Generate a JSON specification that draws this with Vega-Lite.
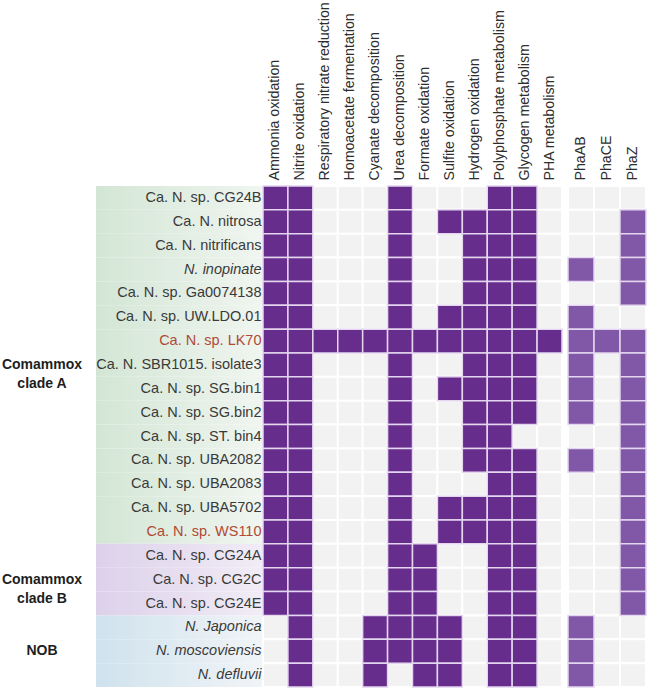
{
 "$schema": "https://vega.github.io/schema/vega-lite/v6.json",
 "background": "white",
 "padding": {"left": 0, "top": 1, "right": 2, "bottom": 2},
 "config": {"view": {"stroke": null}, "font": "Liberation Sans"},
 "datasets": {
  "groups": [
   {"mid": "Ca. N. SBR1015. isolate3", "label": "Comammox\nclade A"},
   {"mid": "Ca. N. sp. CG2C", "label": "Comammox\nclade B"},
   {"mid": "N. moscoviensis", "label": "NOB"}
  ],
  "genomes": [
   {"g": "Ca. N. sp. CG24B", "group": "A"},
   {"g": "Ca. N. nitrosa", "group": "A"},
   {"g": "Ca. N. nitrificans", "group": "A"},
   {"g": "N. inopinate", "group": "A"},
   {"g": "Ca. N. sp. Ga0074138", "group": "A"},
   {"g": "Ca. N. sp. UW.LDO.01", "group": "A"},
   {"g": "Ca. N. sp. LK70", "group": "A"},
   {"g": "Ca. N. SBR1015. isolate3", "group": "A"},
   {"g": "Ca. N. sp. SG.bin1", "group": "A"},
   {"g": "Ca. N. sp. SG.bin2", "group": "A"},
   {"g": "Ca. N. sp. ST. bin4", "group": "A"},
   {"g": "Ca. N. sp. UBA2082", "group": "A"},
   {"g": "Ca. N. sp. UBA2083", "group": "A"},
   {"g": "Ca. N. sp. UBA5702", "group": "A"},
   {"g": "Ca. N. sp. WS110", "group": "A"},
   {"g": "Ca. N. sp. CG24A", "group": "B"},
   {"g": "Ca. N. sp. CG2C", "group": "B"},
   {"g": "Ca. N. sp. CG24E", "group": "B"},
   {"g": "N. Japonica", "group": "NOB"},
   {"g": "N. moscoviensis", "group": "NOB"},
   {"g": "N. defluvii", "group": "NOB"}
  ],
  "cells": [
   {"g": "Ca. N. sp. CG24B", "f": "Ammonia oxidation", "v": 1},
   {"g": "Ca. N. sp. CG24B", "f": "Nitrite oxidation", "v": 1},
   {"g": "Ca. N. sp. CG24B", "f": "Respiratory nitrate reduction", "v": 0},
   {"g": "Ca. N. sp. CG24B", "f": "Homoacetate fermentation", "v": 0},
   {"g": "Ca. N. sp. CG24B", "f": "Cyanate decomposition", "v": 0},
   {"g": "Ca. N. sp. CG24B", "f": "Urea decomposition", "v": 1},
   {"g": "Ca. N. sp. CG24B", "f": "Formate oxidation", "v": 0},
   {"g": "Ca. N. sp. CG24B", "f": "Sulfite oxidation", "v": 0},
   {"g": "Ca. N. sp. CG24B", "f": "Hydrogen oxidation", "v": 0},
   {"g": "Ca. N. sp. CG24B", "f": "Polyphosphate metabolism", "v": 1},
   {"g": "Ca. N. sp. CG24B", "f": "Glycogen metabolism", "v": 1},
   {"g": "Ca. N. sp. CG24B", "f": "PHA metabolism", "v": 0},
   {"g": "Ca. N. nitrosa", "f": "Ammonia oxidation", "v": 1},
   {"g": "Ca. N. nitrosa", "f": "Nitrite oxidation", "v": 1},
   {"g": "Ca. N. nitrosa", "f": "Respiratory nitrate reduction", "v": 0},
   {"g": "Ca. N. nitrosa", "f": "Homoacetate fermentation", "v": 0},
   {"g": "Ca. N. nitrosa", "f": "Cyanate decomposition", "v": 0},
   {"g": "Ca. N. nitrosa", "f": "Urea decomposition", "v": 1},
   {"g": "Ca. N. nitrosa", "f": "Formate oxidation", "v": 0},
   {"g": "Ca. N. nitrosa", "f": "Sulfite oxidation", "v": 1},
   {"g": "Ca. N. nitrosa", "f": "Hydrogen oxidation", "v": 1},
   {"g": "Ca. N. nitrosa", "f": "Polyphosphate metabolism", "v": 1},
   {"g": "Ca. N. nitrosa", "f": "Glycogen metabolism", "v": 1},
   {"g": "Ca. N. nitrosa", "f": "PHA metabolism", "v": 0},
   {"g": "Ca. N. nitrificans", "f": "Ammonia oxidation", "v": 1},
   {"g": "Ca. N. nitrificans", "f": "Nitrite oxidation", "v": 1},
   {"g": "Ca. N. nitrificans", "f": "Respiratory nitrate reduction", "v": 0},
   {"g": "Ca. N. nitrificans", "f": "Homoacetate fermentation", "v": 0},
   {"g": "Ca. N. nitrificans", "f": "Cyanate decomposition", "v": 0},
   {"g": "Ca. N. nitrificans", "f": "Urea decomposition", "v": 1},
   {"g": "Ca. N. nitrificans", "f": "Formate oxidation", "v": 0},
   {"g": "Ca. N. nitrificans", "f": "Sulfite oxidation", "v": 0},
   {"g": "Ca. N. nitrificans", "f": "Hydrogen oxidation", "v": 1},
   {"g": "Ca. N. nitrificans", "f": "Polyphosphate metabolism", "v": 1},
   {"g": "Ca. N. nitrificans", "f": "Glycogen metabolism", "v": 1},
   {"g": "Ca. N. nitrificans", "f": "PHA metabolism", "v": 0},
   {"g": "N. inopinate", "f": "Ammonia oxidation", "v": 1},
   {"g": "N. inopinate", "f": "Nitrite oxidation", "v": 1},
   {"g": "N. inopinate", "f": "Respiratory nitrate reduction", "v": 0},
   {"g": "N. inopinate", "f": "Homoacetate fermentation", "v": 0},
   {"g": "N. inopinate", "f": "Cyanate decomposition", "v": 0},
   {"g": "N. inopinate", "f": "Urea decomposition", "v": 1},
   {"g": "N. inopinate", "f": "Formate oxidation", "v": 0},
   {"g": "N. inopinate", "f": "Sulfite oxidation", "v": 0},
   {"g": "N. inopinate", "f": "Hydrogen oxidation", "v": 1},
   {"g": "N. inopinate", "f": "Polyphosphate metabolism", "v": 1},
   {"g": "N. inopinate", "f": "Glycogen metabolism", "v": 1},
   {"g": "N. inopinate", "f": "PHA metabolism", "v": 0},
   {"g": "Ca. N. sp. Ga0074138", "f": "Ammonia oxidation", "v": 1},
   {"g": "Ca. N. sp. Ga0074138", "f": "Nitrite oxidation", "v": 1},
   {"g": "Ca. N. sp. Ga0074138", "f": "Respiratory nitrate reduction", "v": 0},
   {"g": "Ca. N. sp. Ga0074138", "f": "Homoacetate fermentation", "v": 0},
   {"g": "Ca. N. sp. Ga0074138", "f": "Cyanate decomposition", "v": 0},
   {"g": "Ca. N. sp. Ga0074138", "f": "Urea decomposition", "v": 1},
   {"g": "Ca. N. sp. Ga0074138", "f": "Formate oxidation", "v": 0},
   {"g": "Ca. N. sp. Ga0074138", "f": "Sulfite oxidation", "v": 0},
   {"g": "Ca. N. sp. Ga0074138", "f": "Hydrogen oxidation", "v": 1},
   {"g": "Ca. N. sp. Ga0074138", "f": "Polyphosphate metabolism", "v": 1},
   {"g": "Ca. N. sp. Ga0074138", "f": "Glycogen metabolism", "v": 1},
   {"g": "Ca. N. sp. Ga0074138", "f": "PHA metabolism", "v": 0},
   {"g": "Ca. N. sp. UW.LDO.01", "f": "Ammonia oxidation", "v": 1},
   {"g": "Ca. N. sp. UW.LDO.01", "f": "Nitrite oxidation", "v": 1},
   {"g": "Ca. N. sp. UW.LDO.01", "f": "Respiratory nitrate reduction", "v": 0},
   {"g": "Ca. N. sp. UW.LDO.01", "f": "Homoacetate fermentation", "v": 0},
   {"g": "Ca. N. sp. UW.LDO.01", "f": "Cyanate decomposition", "v": 0},
   {"g": "Ca. N. sp. UW.LDO.01", "f": "Urea decomposition", "v": 1},
   {"g": "Ca. N. sp. UW.LDO.01", "f": "Formate oxidation", "v": 0},
   {"g": "Ca. N. sp. UW.LDO.01", "f": "Sulfite oxidation", "v": 1},
   {"g": "Ca. N. sp. UW.LDO.01", "f": "Hydrogen oxidation", "v": 1},
   {"g": "Ca. N. sp. UW.LDO.01", "f": "Polyphosphate metabolism", "v": 1},
   {"g": "Ca. N. sp. UW.LDO.01", "f": "Glycogen metabolism", "v": 1},
   {"g": "Ca. N. sp. UW.LDO.01", "f": "PHA metabolism", "v": 0},
   {"g": "Ca. N. sp. LK70", "f": "Ammonia oxidation", "v": 1},
   {"g": "Ca. N. sp. LK70", "f": "Nitrite oxidation", "v": 1},
   {"g": "Ca. N. sp. LK70", "f": "Respiratory nitrate reduction", "v": 1},
   {"g": "Ca. N. sp. LK70", "f": "Homoacetate fermentation", "v": 1},
   {"g": "Ca. N. sp. LK70", "f": "Cyanate decomposition", "v": 1},
   {"g": "Ca. N. sp. LK70", "f": "Urea decomposition", "v": 1},
   {"g": "Ca. N. sp. LK70", "f": "Formate oxidation", "v": 1},
   {"g": "Ca. N. sp. LK70", "f": "Sulfite oxidation", "v": 1},
   {"g": "Ca. N. sp. LK70", "f": "Hydrogen oxidation", "v": 1},
   {"g": "Ca. N. sp. LK70", "f": "Polyphosphate metabolism", "v": 1},
   {"g": "Ca. N. sp. LK70", "f": "Glycogen metabolism", "v": 1},
   {"g": "Ca. N. sp. LK70", "f": "PHA metabolism", "v": 1},
   {"g": "Ca. N. SBR1015. isolate3", "f": "Ammonia oxidation", "v": 1},
   {"g": "Ca. N. SBR1015. isolate3", "f": "Nitrite oxidation", "v": 1},
   {"g": "Ca. N. SBR1015. isolate3", "f": "Respiratory nitrate reduction", "v": 0},
   {"g": "Ca. N. SBR1015. isolate3", "f": "Homoacetate fermentation", "v": 0},
   {"g": "Ca. N. SBR1015. isolate3", "f": "Cyanate decomposition", "v": 0},
   {"g": "Ca. N. SBR1015. isolate3", "f": "Urea decomposition", "v": 1},
   {"g": "Ca. N. SBR1015. isolate3", "f": "Formate oxidation", "v": 0},
   {"g": "Ca. N. SBR1015. isolate3", "f": "Sulfite oxidation", "v": 0},
   {"g": "Ca. N. SBR1015. isolate3", "f": "Hydrogen oxidation", "v": 1},
   {"g": "Ca. N. SBR1015. isolate3", "f": "Polyphosphate metabolism", "v": 1},
   {"g": "Ca. N. SBR1015. isolate3", "f": "Glycogen metabolism", "v": 1},
   {"g": "Ca. N. SBR1015. isolate3", "f": "PHA metabolism", "v": 0},
   {"g": "Ca. N. sp. SG.bin1", "f": "Ammonia oxidation", "v": 1},
   {"g": "Ca. N. sp. SG.bin1", "f": "Nitrite oxidation", "v": 1},
   {"g": "Ca. N. sp. SG.bin1", "f": "Respiratory nitrate reduction", "v": 0},
   {"g": "Ca. N. sp. SG.bin1", "f": "Homoacetate fermentation", "v": 0},
   {"g": "Ca. N. sp. SG.bin1", "f": "Cyanate decomposition", "v": 0},
   {"g": "Ca. N. sp. SG.bin1", "f": "Urea decomposition", "v": 1},
   {"g": "Ca. N. sp. SG.bin1", "f": "Formate oxidation", "v": 0},
   {"g": "Ca. N. sp. SG.bin1", "f": "Sulfite oxidation", "v": 1},
   {"g": "Ca. N. sp. SG.bin1", "f": "Hydrogen oxidation", "v": 1},
   {"g": "Ca. N. sp. SG.bin1", "f": "Polyphosphate metabolism", "v": 1},
   {"g": "Ca. N. sp. SG.bin1", "f": "Glycogen metabolism", "v": 1},
   {"g": "Ca. N. sp. SG.bin1", "f": "PHA metabolism", "v": 0},
   {"g": "Ca. N. sp. SG.bin2", "f": "Ammonia oxidation", "v": 1},
   {"g": "Ca. N. sp. SG.bin2", "f": "Nitrite oxidation", "v": 1},
   {"g": "Ca. N. sp. SG.bin2", "f": "Respiratory nitrate reduction", "v": 0},
   {"g": "Ca. N. sp. SG.bin2", "f": "Homoacetate fermentation", "v": 0},
   {"g": "Ca. N. sp. SG.bin2", "f": "Cyanate decomposition", "v": 0},
   {"g": "Ca. N. sp. SG.bin2", "f": "Urea decomposition", "v": 1},
   {"g": "Ca. N. sp. SG.bin2", "f": "Formate oxidation", "v": 0},
   {"g": "Ca. N. sp. SG.bin2", "f": "Sulfite oxidation", "v": 0},
   {"g": "Ca. N. sp. SG.bin2", "f": "Hydrogen oxidation", "v": 1},
   {"g": "Ca. N. sp. SG.bin2", "f": "Polyphosphate metabolism", "v": 1},
   {"g": "Ca. N. sp. SG.bin2", "f": "Glycogen metabolism", "v": 1},
   {"g": "Ca. N. sp. SG.bin2", "f": "PHA metabolism", "v": 0},
   {"g": "Ca. N. sp. ST. bin4", "f": "Ammonia oxidation", "v": 1},
   {"g": "Ca. N. sp. ST. bin4", "f": "Nitrite oxidation", "v": 1},
   {"g": "Ca. N. sp. ST. bin4", "f": "Respiratory nitrate reduction", "v": 0},
   {"g": "Ca. N. sp. ST. bin4", "f": "Homoacetate fermentation", "v": 0},
   {"g": "Ca. N. sp. ST. bin4", "f": "Cyanate decomposition", "v": 0},
   {"g": "Ca. N. sp. ST. bin4", "f": "Urea decomposition", "v": 1},
   {"g": "Ca. N. sp. ST. bin4", "f": "Formate oxidation", "v": 0},
   {"g": "Ca. N. sp. ST. bin4", "f": "Sulfite oxidation", "v": 0},
   {"g": "Ca. N. sp. ST. bin4", "f": "Hydrogen oxidation", "v": 1},
   {"g": "Ca. N. sp. ST. bin4", "f": "Polyphosphate metabolism", "v": 1},
   {"g": "Ca. N. sp. ST. bin4", "f": "Glycogen metabolism", "v": 0},
   {"g": "Ca. N. sp. ST. bin4", "f": "PHA metabolism", "v": 0},
   {"g": "Ca. N. sp. UBA2082", "f": "Ammonia oxidation", "v": 1},
   {"g": "Ca. N. sp. UBA2082", "f": "Nitrite oxidation", "v": 1},
   {"g": "Ca. N. sp. UBA2082", "f": "Respiratory nitrate reduction", "v": 0},
   {"g": "Ca. N. sp. UBA2082", "f": "Homoacetate fermentation", "v": 0},
   {"g": "Ca. N. sp. UBA2082", "f": "Cyanate decomposition", "v": 0},
   {"g": "Ca. N. sp. UBA2082", "f": "Urea decomposition", "v": 1},
   {"g": "Ca. N. sp. UBA2082", "f": "Formate oxidation", "v": 0},
   {"g": "Ca. N. sp. UBA2082", "f": "Sulfite oxidation", "v": 0},
   {"g": "Ca. N. sp. UBA2082", "f": "Hydrogen oxidation", "v": 1},
   {"g": "Ca. N. sp. UBA2082", "f": "Polyphosphate metabolism", "v": 1},
   {"g": "Ca. N. sp. UBA2082", "f": "Glycogen metabolism", "v": 1},
   {"g": "Ca. N. sp. UBA2082", "f": "PHA metabolism", "v": 0},
   {"g": "Ca. N. sp. UBA2083", "f": "Ammonia oxidation", "v": 1},
   {"g": "Ca. N. sp. UBA2083", "f": "Nitrite oxidation", "v": 1},
   {"g": "Ca. N. sp. UBA2083", "f": "Respiratory nitrate reduction", "v": 0},
   {"g": "Ca. N. sp. UBA2083", "f": "Homoacetate fermentation", "v": 0},
   {"g": "Ca. N. sp. UBA2083", "f": "Cyanate decomposition", "v": 0},
   {"g": "Ca. N. sp. UBA2083", "f": "Urea decomposition", "v": 1},
   {"g": "Ca. N. sp. UBA2083", "f": "Formate oxidation", "v": 0},
   {"g": "Ca. N. sp. UBA2083", "f": "Sulfite oxidation", "v": 0},
   {"g": "Ca. N. sp. UBA2083", "f": "Hydrogen oxidation", "v": 0},
   {"g": "Ca. N. sp. UBA2083", "f": "Polyphosphate metabolism", "v": 1},
   {"g": "Ca. N. sp. UBA2083", "f": "Glycogen metabolism", "v": 1},
   {"g": "Ca. N. sp. UBA2083", "f": "PHA metabolism", "v": 0},
   {"g": "Ca. N. sp. UBA5702", "f": "Ammonia oxidation", "v": 1},
   {"g": "Ca. N. sp. UBA5702", "f": "Nitrite oxidation", "v": 1},
   {"g": "Ca. N. sp. UBA5702", "f": "Respiratory nitrate reduction", "v": 0},
   {"g": "Ca. N. sp. UBA5702", "f": "Homoacetate fermentation", "v": 0},
   {"g": "Ca. N. sp. UBA5702", "f": "Cyanate decomposition", "v": 0},
   {"g": "Ca. N. sp. UBA5702", "f": "Urea decomposition", "v": 1},
   {"g": "Ca. N. sp. UBA5702", "f": "Formate oxidation", "v": 0},
   {"g": "Ca. N. sp. UBA5702", "f": "Sulfite oxidation", "v": 1},
   {"g": "Ca. N. sp. UBA5702", "f": "Hydrogen oxidation", "v": 1},
   {"g": "Ca. N. sp. UBA5702", "f": "Polyphosphate metabolism", "v": 1},
   {"g": "Ca. N. sp. UBA5702", "f": "Glycogen metabolism", "v": 1},
   {"g": "Ca. N. sp. UBA5702", "f": "PHA metabolism", "v": 0},
   {"g": "Ca. N. sp. WS110", "f": "Ammonia oxidation", "v": 1},
   {"g": "Ca. N. sp. WS110", "f": "Nitrite oxidation", "v": 1},
   {"g": "Ca. N. sp. WS110", "f": "Respiratory nitrate reduction", "v": 0},
   {"g": "Ca. N. sp. WS110", "f": "Homoacetate fermentation", "v": 0},
   {"g": "Ca. N. sp. WS110", "f": "Cyanate decomposition", "v": 0},
   {"g": "Ca. N. sp. WS110", "f": "Urea decomposition", "v": 1},
   {"g": "Ca. N. sp. WS110", "f": "Formate oxidation", "v": 0},
   {"g": "Ca. N. sp. WS110", "f": "Sulfite oxidation", "v": 1},
   {"g": "Ca. N. sp. WS110", "f": "Hydrogen oxidation", "v": 1},
   {"g": "Ca. N. sp. WS110", "f": "Polyphosphate metabolism", "v": 1},
   {"g": "Ca. N. sp. WS110", "f": "Glycogen metabolism", "v": 1},
   {"g": "Ca. N. sp. WS110", "f": "PHA metabolism", "v": 0},
   {"g": "Ca. N. sp. CG24A", "f": "Ammonia oxidation", "v": 1},
   {"g": "Ca. N. sp. CG24A", "f": "Nitrite oxidation", "v": 1},
   {"g": "Ca. N. sp. CG24A", "f": "Respiratory nitrate reduction", "v": 0},
   {"g": "Ca. N. sp. CG24A", "f": "Homoacetate fermentation", "v": 0},
   {"g": "Ca. N. sp. CG24A", "f": "Cyanate decomposition", "v": 0},
   {"g": "Ca. N. sp. CG24A", "f": "Urea decomposition", "v": 1},
   {"g": "Ca. N. sp. CG24A", "f": "Formate oxidation", "v": 1},
   {"g": "Ca. N. sp. CG24A", "f": "Sulfite oxidation", "v": 0},
   {"g": "Ca. N. sp. CG24A", "f": "Hydrogen oxidation", "v": 0},
   {"g": "Ca. N. sp. CG24A", "f": "Polyphosphate metabolism", "v": 1},
   {"g": "Ca. N. sp. CG24A", "f": "Glycogen metabolism", "v": 1},
   {"g": "Ca. N. sp. CG24A", "f": "PHA metabolism", "v": 0},
   {"g": "Ca. N. sp. CG2C", "f": "Ammonia oxidation", "v": 1},
   {"g": "Ca. N. sp. CG2C", "f": "Nitrite oxidation", "v": 1},
   {"g": "Ca. N. sp. CG2C", "f": "Respiratory nitrate reduction", "v": 0},
   {"g": "Ca. N. sp. CG2C", "f": "Homoacetate fermentation", "v": 0},
   {"g": "Ca. N. sp. CG2C", "f": "Cyanate decomposition", "v": 0},
   {"g": "Ca. N. sp. CG2C", "f": "Urea decomposition", "v": 1},
   {"g": "Ca. N. sp. CG2C", "f": "Formate oxidation", "v": 1},
   {"g": "Ca. N. sp. CG2C", "f": "Sulfite oxidation", "v": 0},
   {"g": "Ca. N. sp. CG2C", "f": "Hydrogen oxidation", "v": 0},
   {"g": "Ca. N. sp. CG2C", "f": "Polyphosphate metabolism", "v": 1},
   {"g": "Ca. N. sp. CG2C", "f": "Glycogen metabolism", "v": 1},
   {"g": "Ca. N. sp. CG2C", "f": "PHA metabolism", "v": 0},
   {"g": "Ca. N. sp. CG24E", "f": "Ammonia oxidation", "v": 1},
   {"g": "Ca. N. sp. CG24E", "f": "Nitrite oxidation", "v": 1},
   {"g": "Ca. N. sp. CG24E", "f": "Respiratory nitrate reduction", "v": 0},
   {"g": "Ca. N. sp. CG24E", "f": "Homoacetate fermentation", "v": 0},
   {"g": "Ca. N. sp. CG24E", "f": "Cyanate decomposition", "v": 0},
   {"g": "Ca. N. sp. CG24E", "f": "Urea decomposition", "v": 1},
   {"g": "Ca. N. sp. CG24E", "f": "Formate oxidation", "v": 1},
   {"g": "Ca. N. sp. CG24E", "f": "Sulfite oxidation", "v": 0},
   {"g": "Ca. N. sp. CG24E", "f": "Hydrogen oxidation", "v": 0},
   {"g": "Ca. N. sp. CG24E", "f": "Polyphosphate metabolism", "v": 1},
   {"g": "Ca. N. sp. CG24E", "f": "Glycogen metabolism", "v": 1},
   {"g": "Ca. N. sp. CG24E", "f": "PHA metabolism", "v": 0},
   {"g": "N. Japonica", "f": "Ammonia oxidation", "v": 0},
   {"g": "N. Japonica", "f": "Nitrite oxidation", "v": 1},
   {"g": "N. Japonica", "f": "Respiratory nitrate reduction", "v": 0},
   {"g": "N. Japonica", "f": "Homoacetate fermentation", "v": 0},
   {"g": "N. Japonica", "f": "Cyanate decomposition", "v": 1},
   {"g": "N. Japonica", "f": "Urea decomposition", "v": 1},
   {"g": "N. Japonica", "f": "Formate oxidation", "v": 1},
   {"g": "N. Japonica", "f": "Sulfite oxidation", "v": 1},
   {"g": "N. Japonica", "f": "Hydrogen oxidation", "v": 0},
   {"g": "N. Japonica", "f": "Polyphosphate metabolism", "v": 1},
   {"g": "N. Japonica", "f": "Glycogen metabolism", "v": 1},
   {"g": "N. Japonica", "f": "PHA metabolism", "v": 0},
   {"g": "N. moscoviensis", "f": "Ammonia oxidation", "v": 0},
   {"g": "N. moscoviensis", "f": "Nitrite oxidation", "v": 1},
   {"g": "N. moscoviensis", "f": "Respiratory nitrate reduction", "v": 0},
   {"g": "N. moscoviensis", "f": "Homoacetate fermentation", "v": 0},
   {"g": "N. moscoviensis", "f": "Cyanate decomposition", "v": 1},
   {"g": "N. moscoviensis", "f": "Urea decomposition", "v": 1},
   {"g": "N. moscoviensis", "f": "Formate oxidation", "v": 1},
   {"g": "N. moscoviensis", "f": "Sulfite oxidation", "v": 1},
   {"g": "N. moscoviensis", "f": "Hydrogen oxidation", "v": 0},
   {"g": "N. moscoviensis", "f": "Polyphosphate metabolism", "v": 1},
   {"g": "N. moscoviensis", "f": "Glycogen metabolism", "v": 1},
   {"g": "N. moscoviensis", "f": "PHA metabolism", "v": 0},
   {"g": "N. defluvii", "f": "Ammonia oxidation", "v": 0},
   {"g": "N. defluvii", "f": "Nitrite oxidation", "v": 1},
   {"g": "N. defluvii", "f": "Respiratory nitrate reduction", "v": 0},
   {"g": "N. defluvii", "f": "Homoacetate fermentation", "v": 0},
   {"g": "N. defluvii", "f": "Cyanate decomposition", "v": 1},
   {"g": "N. defluvii", "f": "Urea decomposition", "v": 0},
   {"g": "N. defluvii", "f": "Formate oxidation", "v": 1},
   {"g": "N. defluvii", "f": "Sulfite oxidation", "v": 1},
   {"g": "N. defluvii", "f": "Hydrogen oxidation", "v": 0},
   {"g": "N. defluvii", "f": "Polyphosphate metabolism", "v": 1},
   {"g": "N. defluvii", "f": "Glycogen metabolism", "v": 1},
   {"g": "N. defluvii", "f": "PHA metabolism", "v": 0}
  ],
  "pha": [
   {"g": "Ca. N. sp. CG24B", "f": "PhaAB", "v": 0}, {"g": "Ca. N. sp. CG24B", "f": "PhaCE", "v": 0}, {"g": "Ca. N. sp. CG24B", "f": "PhaZ", "v": 0},
   {"g": "Ca. N. nitrosa", "f": "PhaAB", "v": 0}, {"g": "Ca. N. nitrosa", "f": "PhaCE", "v": 0}, {"g": "Ca. N. nitrosa", "f": "PhaZ", "v": 1},
   {"g": "Ca. N. nitrificans", "f": "PhaAB", "v": 0}, {"g": "Ca. N. nitrificans", "f": "PhaCE", "v": 0}, {"g": "Ca. N. nitrificans", "f": "PhaZ", "v": 1},
   {"g": "N. inopinate", "f": "PhaAB", "v": 1}, {"g": "N. inopinate", "f": "PhaCE", "v": 0}, {"g": "N. inopinate", "f": "PhaZ", "v": 1},
   {"g": "Ca. N. sp. Ga0074138", "f": "PhaAB", "v": 0}, {"g": "Ca. N. sp. Ga0074138", "f": "PhaCE", "v": 0}, {"g": "Ca. N. sp. Ga0074138", "f": "PhaZ", "v": 1},
   {"g": "Ca. N. sp. UW.LDO.01", "f": "PhaAB", "v": 1}, {"g": "Ca. N. sp. UW.LDO.01", "f": "PhaCE", "v": 0}, {"g": "Ca. N. sp. UW.LDO.01", "f": "PhaZ", "v": 0},
   {"g": "Ca. N. sp. LK70", "f": "PhaAB", "v": 1}, {"g": "Ca. N. sp. LK70", "f": "PhaCE", "v": 1}, {"g": "Ca. N. sp. LK70", "f": "PhaZ", "v": 1},
   {"g": "Ca. N. SBR1015. isolate3", "f": "PhaAB", "v": 1}, {"g": "Ca. N. SBR1015. isolate3", "f": "PhaCE", "v": 0}, {"g": "Ca. N. SBR1015. isolate3", "f": "PhaZ", "v": 1},
   {"g": "Ca. N. sp. SG.bin1", "f": "PhaAB", "v": 1}, {"g": "Ca. N. sp. SG.bin1", "f": "PhaCE", "v": 0}, {"g": "Ca. N. sp. SG.bin1", "f": "PhaZ", "v": 1},
   {"g": "Ca. N. sp. SG.bin2", "f": "PhaAB", "v": 1}, {"g": "Ca. N. sp. SG.bin2", "f": "PhaCE", "v": 0}, {"g": "Ca. N. sp. SG.bin2", "f": "PhaZ", "v": 1},
   {"g": "Ca. N. sp. ST. bin4", "f": "PhaAB", "v": 0}, {"g": "Ca. N. sp. ST. bin4", "f": "PhaCE", "v": 0}, {"g": "Ca. N. sp. ST. bin4", "f": "PhaZ", "v": 1},
   {"g": "Ca. N. sp. UBA2082", "f": "PhaAB", "v": 1}, {"g": "Ca. N. sp. UBA2082", "f": "PhaCE", "v": 0}, {"g": "Ca. N. sp. UBA2082", "f": "PhaZ", "v": 1},
   {"g": "Ca. N. sp. UBA2083", "f": "PhaAB", "v": 0}, {"g": "Ca. N. sp. UBA2083", "f": "PhaCE", "v": 0}, {"g": "Ca. N. sp. UBA2083", "f": "PhaZ", "v": 1},
   {"g": "Ca. N. sp. UBA5702", "f": "PhaAB", "v": 0}, {"g": "Ca. N. sp. UBA5702", "f": "PhaCE", "v": 0}, {"g": "Ca. N. sp. UBA5702", "f": "PhaZ", "v": 1},
   {"g": "Ca. N. sp. WS110", "f": "PhaAB", "v": 0}, {"g": "Ca. N. sp. WS110", "f": "PhaCE", "v": 0}, {"g": "Ca. N. sp. WS110", "f": "PhaZ", "v": 1},
   {"g": "Ca. N. sp. CG24A", "f": "PhaAB", "v": 0}, {"g": "Ca. N. sp. CG24A", "f": "PhaCE", "v": 0}, {"g": "Ca. N. sp. CG24A", "f": "PhaZ", "v": 1},
   {"g": "Ca. N. sp. CG2C", "f": "PhaAB", "v": 0}, {"g": "Ca. N. sp. CG2C", "f": "PhaCE", "v": 0}, {"g": "Ca. N. sp. CG2C", "f": "PhaZ", "v": 1},
   {"g": "Ca. N. sp. CG24E", "f": "PhaAB", "v": 0}, {"g": "Ca. N. sp. CG24E", "f": "PhaCE", "v": 0}, {"g": "Ca. N. sp. CG24E", "f": "PhaZ", "v": 1},
   {"g": "N. Japonica", "f": "PhaAB", "v": 1}, {"g": "N. Japonica", "f": "PhaCE", "v": 0}, {"g": "N. Japonica", "f": "PhaZ", "v": 0},
   {"g": "N. moscoviensis", "f": "PhaAB", "v": 1}, {"g": "N. moscoviensis", "f": "PhaCE", "v": 0}, {"g": "N. moscoviensis", "f": "PhaZ", "v": 0},
   {"g": "N. defluvii", "f": "PhaAB", "v": 1}, {"g": "N. defluvii", "f": "PhaCE", "v": 0}, {"g": "N. defluvii", "f": "PhaZ", "v": 0}
  ]
 },
 "spacing": 12,
 "bounds": "flush",
 "hconcat": [
  {
   "width": 84,
   "height": 501,
   "data": {"name": "groups"},
   "mark": {"type": "text", "font": "Liberation Sans", "fontWeight": "bold", "fontSize": 14, "lineBreak": "\n", "lineHeight": 19, "color": "#1e1e1e", "align": "center", "baseline": "middle"},
   "encoding": {
    "y": {"field": "mid", "type": "nominal", "sort": null, "scale": {"domain": ["Ca. N. sp. CG24B","Ca. N. nitrosa","Ca. N. nitrificans","N. inopinate","Ca. N. sp. Ga0074138","Ca. N. sp. UW.LDO.01","Ca. N. sp. LK70","Ca. N. SBR1015. isolate3","Ca. N. sp. SG.bin1","Ca. N. sp. SG.bin2","Ca. N. sp. ST. bin4","Ca. N. sp. UBA2082","Ca. N. sp. UBA2083","Ca. N. sp. UBA5702","Ca. N. sp. WS110","Ca. N. sp. CG24A","Ca. N. sp. CG2C","Ca. N. sp. CG24E","N. Japonica","N. moscoviensis","N. defluvii"], "paddingInner": 0, "paddingOuter": 0}, "axis": null},
    "text": {"field": "label", "type": "nominal"}
   }
  },
  {
   "spacing": 1,
   "bounds": "flush",
   "hconcat": [
    {
     "width": 166,
     "height": 501,
     "data": {"name": "genomes"},
     "encoding": {
      "y": {"field": "g", "type": "nominal", "sort": null, "scale": {"paddingInner": 0, "paddingOuter": 0}, "axis": null}
     },
     "layer": [
      {"transform": [{"filter": "datum.group == 'A'"}], "mark": {"type": "rect", "fill": {"gradient": "linear", "x1": 0, "y1": 0, "x2": 1, "y2": 0, "stops": [{"offset": 0, "color": "#d3e6d5"}, {"offset": 1, "color": "#f0f5f0"}]}, "strokeWidth": 0}},
      {"transform": [{"filter": "datum.group == 'B'"}], "mark": {"type": "rect", "fill": {"gradient": "linear", "x1": 0, "y1": 0, "x2": 1, "y2": 0, "stops": [{"offset": 0, "color": "#dcd1ea"}, {"offset": 1, "color": "#f1ecf6"}]}, "strokeWidth": 0}},
      {"transform": [{"filter": "datum.group == 'NOB'"}], "mark": {"type": "rect", "fill": {"gradient": "linear", "x1": 0, "y1": 0, "x2": 1, "y2": 0, "stops": [{"offset": 0, "color": "#cfe2ed"}, {"offset": 1, "color": "#f1f4f7"}]}, "strokeWidth": 0}}
     ]
    },
    {
     "spacing": 6,
     "bounds": "flush",
     "hconcat": [
      {
       "width": 299,
       "height": 501,
       "data": {"name": "cells"},
       "encoding": {
        "x": {"field": "f", "type": "nominal", "sort": null, "scale": {"paddingInner": 0, "paddingOuter": 0},
         "axis": {"orient": "top", "title": null, "labelAngle": 270, "labelAlign": "left", "labelBaseline": "middle", "labelPadding": 6, "ticks": false, "domain": false, "labelFont": "Liberation Sans", "labelFontSize": 14.2, "labelColor": "#2e2e2e", "labelLimit": 0}},
        "y": {"field": "g", "type": "nominal", "sort": null, "scale": {"paddingInner": 0, "paddingOuter": 0},
         "axis": {"orient": "left", "title": null, "ticks": false, "domain": false, "labelPadding": 2, "labelFont": "Liberation Sans", "labelFontSize": 14.5, "labelLimit": 0,
          "labelColor": {"condition": {"test": "datum.value == 'Ca. N. sp. LK70' || datum.value == 'Ca. N. sp. WS110'", "value": "#b04a36"}, "value": "#3a3a3a"},
          "labelFontStyle": {"condition": {"test": "substring(datum.value, 0, 3) != 'Ca.'", "value": "italic"}, "value": "normal"}}}
       },
       "layer": [
        {"mark": {"type": "rect", "fill": "#f2f2f2", "stroke": "#ffffff", "strokeWidth": 2}},
        {"transform": [{"filter": "datum.v == 1"}], "mark": {"type": "rect", "fill": "#662d8c", "stroke": "#e4d6ef", "strokeWidth": 1.5}}
       ]
      },
      {
       "width": 78,
       "height": 501,
       "data": {"name": "pha"},
       "encoding": {
        "x": {"field": "f", "type": "nominal", "sort": null, "scale": {"paddingInner": 0, "paddingOuter": 0},
         "axis": {"orient": "top", "title": null, "labelAngle": 270, "labelAlign": "left", "labelBaseline": "middle", "labelPadding": 6, "ticks": false, "domain": false, "labelFont": "Liberation Sans", "labelFontSize": 14.2, "labelColor": "#2e2e2e"}},
        "y": {"field": "g", "type": "nominal", "sort": null, "scale": {"paddingInner": 0, "paddingOuter": 0}, "axis": null}
       },
       "layer": [
        {"mark": {"type": "rect", "fill": "#f2f2f2", "stroke": "#ffffff", "strokeWidth": 2}},
        {"transform": [{"filter": "datum.v == 1"}], "mark": {"type": "rect", "fill": "#8157a8", "stroke": "#e4d6ef", "strokeWidth": 1.5}}
       ]
      }
     ]
    }
   ]
  }
 ]
}
